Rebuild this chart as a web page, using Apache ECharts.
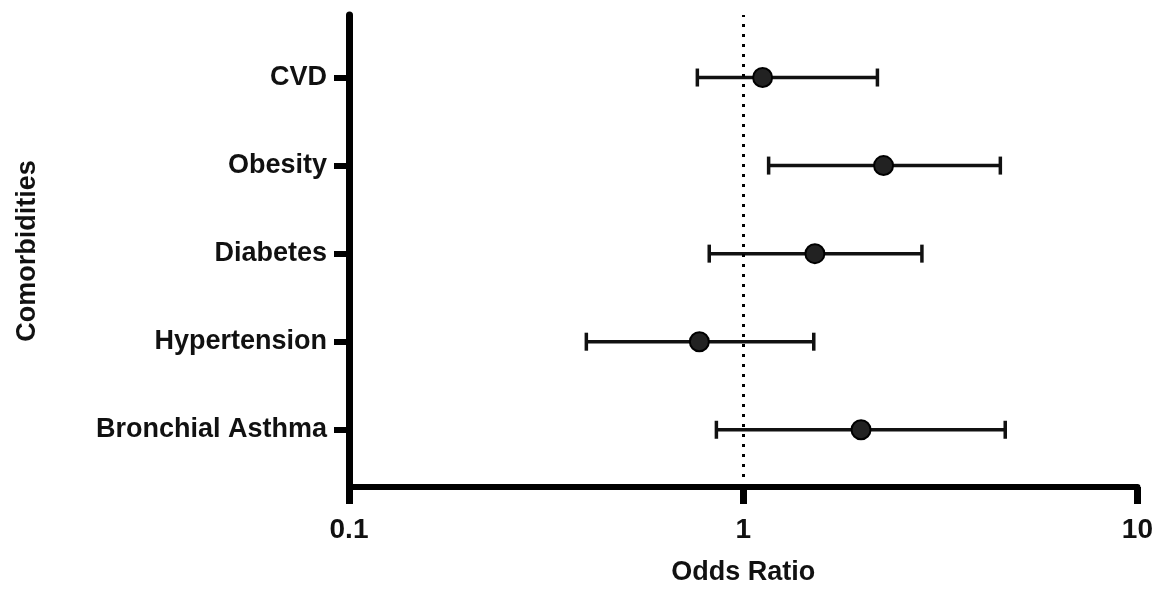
<!DOCTYPE html>
<html>
<head>
<meta charset="utf-8">
<script src="https://cdn.jsdelivr.net/npm/echarts@6/dist/echarts.min.js"></script>
<style>
  html, body { margin: 0; padding: 0; background: #fff; }
  #chart { width: 1156px; height: 591px; }
</style>
</head>
<body>
<div id="chart"></div>
<script>
// categories top to bottom
const comorbidities = ['CVD', 'Obesity', 'Diabetes', 'Hypertension', 'Bronchial Asthma'];
const oddsRatio = [1.12, 2.27, 1.52, 0.774, 1.99];
const ciLow = [0.765, 1.16, 0.82, 0.40, 0.855];
const ciHigh = [2.19, 4.49, 2.84, 1.51, 4.62];
const xTicks = [0.1, 1, 10];

// row position: CVD at top (5) down to Bronchial Asthma (1)
const rowPos = comorbidities.map((c, i) => comorbidities.length - i);

const font = 'Liberation Sans, Arial, sans-serif';
const chart = echarts.init(document.getElementById('chart'));

const option = {
    animation: false,
    backgroundColor: '#fff',
    grid: { left: 349, right: 16, top: 15, bottom: 98 },
    xAxis: {
        type: 'log',
        logBase: 10,
        min: 0.1,
        max: 10,
        name: 'Odds Ratio',
        nameLocation: 'middle',
        nameGap: 72,
        nameTextStyle: { fontFamily: font, fontWeight: 'bold', fontSize: 27, color: '#111' },
        axisLine: { lineStyle: { color: '#000', width: 6 } },
        axisTick: { length: 17, lineStyle: { color: '#000', width: 7 } },
        axisLabel: {
            margin: 29,
            fontFamily: font, fontWeight: 'bold', fontSize: 28, color: '#111',
            formatter: v => {
                const t = xTicks.find(x => Math.abs(x - v) < 1e-6);
                return t === undefined ? '' : String(t);
            }
        },
        splitLine: { show: false },
        minorTick: { show: false }
    },
    yAxis: {
        type: 'value',
        min: 0.35,
        max: 5.71,
        name: 'Comorbidities',
        nameLocation: 'middle',
        nameRotate: 90,
        nameGap: 308,
        nameTextStyle: { fontFamily: font, fontWeight: 'bold', fontSize: 27, color: '#111' },
        axisLine: { show: true, lineStyle: { color: '#000', width: 7 } },
        axisTick: { show: true, length: 15, customValues: rowPos, lineStyle: { color: '#000', width: 6 } },
        axisLabel: {
            margin: 22,
            customValues: rowPos,
            fontFamily: font, fontWeight: 'bold', fontSize: 27, color: '#111',
            formatter: v => comorbidities[comorbidities.length - Math.round(v)] || ''
        },
        splitLine: { show: false }
    },
    series: [
        {
            type: 'custom',
            silent: true,
            data: comorbidities.map((c, i) => [ciLow[i], ciHigh[i], rowPos[i]]),
            renderItem: (params, api) => {
                const lo = api.coord([api.value(0), api.value(2)]);
                const hi = api.coord([api.value(1), api.value(2)]);
                const cap = 9;
                const style = { stroke: '#111', lineWidth: 3.5 };
                return {
                    type: 'group',
                    children: [
                        { type: 'line', shape: { x1: lo[0], y1: lo[1], x2: hi[0], y2: hi[1] }, style },
                        { type: 'line', shape: { x1: lo[0], y1: lo[1] - cap, x2: lo[0], y2: lo[1] + cap }, style },
                        { type: 'line', shape: { x1: hi[0], y1: hi[1] - cap, x2: hi[0], y2: hi[1] + cap }, style }
                    ]
                };
            },
            encode: { x: [0, 1], y: 2 },
            z: 3
        },
        {
            type: 'scatter',
            silent: true,
            symbol: 'circle',
            symbolSize: 19,
            itemStyle: { color: '#222', borderColor: '#000', borderWidth: 2, opacity: 1 },
            data: comorbidities.map((c, i) => [oddsRatio[i], rowPos[i]]),
            markLine: {
                silent: true,
                symbol: 'none',
                label: { show: false },
                lineStyle: { color: '#000', width: 3, type: [3, 7] },
                data: [{ xAxis: 1 }]
            },
            z: 4
        }
    ]
};

chart.setOption(option);
</script>
</body>
</html>
